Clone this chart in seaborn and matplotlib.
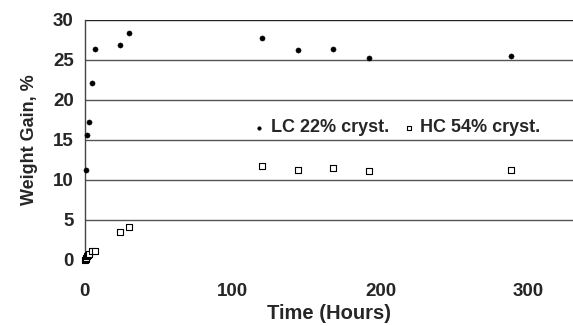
import matplotlib
matplotlib.use("Agg")
import matplotlib.pyplot as plt
from matplotlib.ticker import MultipleLocator
import seaborn as sns
import pandas as pd

lc_time = [0, 0.5, 1.5, 3, 5, 7, 24, 30, 120, 144, 168, 192, 288]
lc_gain = [0, 11.2, 15.6, 17.2, 22.1, 26.3, 26.9, 28.3, 27.75, 26.2, 26.35, 25.2, 25.5]
hc_time = [0, 0.5, 1, 1.5, 2, 3, 5, 7, 24, 30, 120, 144, 168, 192, 288]
hc_gain = [0, 0.15, 0.3, 0.45, 0.6, 0.8, 1.1, 1.1, 3.45, 4.1, 11.7, 11.3, 11.5, 11.1, 11.2]
lc_label = "LC 22% cryst."
hc_label = "HC 54% cryst."

sns.set_style("white")
plt.rcParams['font.family'] = ['Liberation Sans', 'DejaVu Sans']
plt.rcParams['font.weight'] = 'bold'

df_lc = pd.DataFrame({"t": lc_time, "g": lc_gain})
df_hc = pd.DataFrame({"t": hc_time, "g": hc_gain})

fig = plt.figure(figsize=(5.73, 3.26), dpi=100)
ax = fig.add_axes([0.148, 0.2025, 0.852, 0.7365])

for y in range(5, 31, 5):
    ax.axhline(y, color="#555555" if y != 30 else "#222222", lw=1.0, zorder=0)

sns.scatterplot(data=df_lc, x="t", y="g", ax=ax, marker="o", s=14, color="black",
                edgecolor="black", linewidth=0.3, label=lc_label, zorder=3, clip_on=False)
sns.scatterplot(data=df_hc, x="t", y="g", ax=ax, marker="s", s=14, facecolor="white",
                edgecolor="black", linewidth=0.8, label=hc_label, zorder=3, clip_on=False)

ax.set_xlim(0, 330)
ax.set_ylim(0, 30)
ax.xaxis.set_major_locator(MultipleLocator(100))
ax.xaxis.set_minor_locator(MultipleLocator(25))
ax.yaxis.set_major_locator(MultipleLocator(5))
for s in ["top", "right", "bottom"]:
    ax.spines[s].set_visible(False)
ax.spines["left"].set_color("#444444")
ax.spines["left"].set_linewidth(1.0)
ax.tick_params(axis="x", which="both", direction="inout", length=5, width=0.8,
               color="#777777", pad=14, labelsize=13.5)
ax.tick_params(axis="y", which="major", direction="out", length=5, width=0.8,
               color="#555555", pad=3, labelsize=13.5)
for lab in ax.get_xticklabels() + ax.get_yticklabels():
    lab.set_fontweight("bold")

ax.set_xlabel("Time (Hours)", fontsize=14.5, fontweight="bold", labelpad=3)
ax.set_ylabel("Weight Gain, %", fontsize=13, fontweight="bold", labelpad=11)

leg = ax.legend(loc="center left", bbox_to_anchor=(0.327, 0.55), ncol=2, frameon=False,
                prop={"weight": "bold", "size": 13}, handlelength=0.6, handletextpad=0.35,
                columnspacing=0.8, markerscale=0.7, borderpad=0.0)

fig.savefig("out.png", dpi=100)
